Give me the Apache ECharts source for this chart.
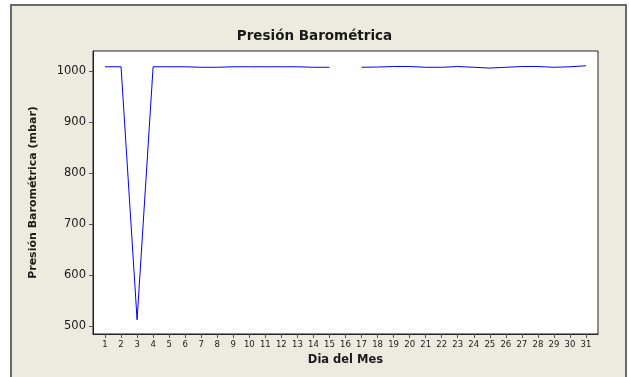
<!DOCTYPE html>
<html>
<head>
<meta charset="utf-8">
<script src="https://cdn.jsdelivr.net/npm/echarts@6/dist/echarts.min.js"></script>
<style>
  html, body { margin: 0; padding: 0; background: #fff; }
  #chart { width: 629px; height: 377px; }
</style>
</head>
<body>
<div id="chart"></div>
<script>
(function() {
  // Day of month and barometric pressure (mbar); day 16 has no reading
  var days = [1, 2, 3, 4, 5, 6, 7, 8, 9, 10, 11, 12, 13, 14, 15, 16,
              17, 18, 19, 20, 21, 22, 23, 24, 25, 26, 27, 28, 29, 30, 31];
  var pressure = [1009, 1009, 512, 1009, 1009, 1009, 1008, 1008, 1009, 1009, 1009, 1009, 1009, 1008, 1008, null,
                  1008, 1008.5, 1009.5, 1009.5, 1008, 1008, 1009.5, 1008, 1006.5, 1008, 1009.5, 1009.5, 1008, 1009, 1011];
  var yTicks = [500, 600, 700, 800, 900, 1000];

  var font = 'DejaVu Sans, Verdana, sans-serif';
  var ink = '#1a1a1a';

  var pts = days.map(function(d, i) { return [d, pressure[i]]; });

  var chart = echarts.init(document.getElementById('chart'), null, { renderer: 'canvas' });
  chart.setOption({
    animation: false,
    backgroundColor: '#fff',
    graphic: [{
      type: 'rect', z: -10, silent: true,
      shape: { x: 11, y: 5, width: 615, height: 390 },
      style: { fill: '#EDEAE0', stroke: '#6a6a6a', lineWidth: 2 }
    }],
    title: {
      text: 'Presión Barométrica',
      left: 'center', top: 24,
      textStyle: { fontFamily: font, fontSize: 13.5, fontWeight: 'bold', color: ink }
    },
    grid: {
      left: 93, top: 51, width: 505, height: 283,
      show: true, backgroundColor: '#fff', borderColor: '#222', borderWidth: 1
    },
    xAxis: {
      type: 'value', min: 0.25, max: 31.75,
      name: 'Dia del Mes', nameLocation: 'middle', nameGap: 20,
      nameTextStyle: { fontFamily: font, fontSize: 11.5, fontWeight: 'bold', color: ink },
      axisLine: { show: true, onZero: false, lineStyle: { color: '#222', width: 1 } },
      axisTick: { show: true, length: 4, lineStyle: { color: '#555' }, customValues: days },
      axisLabel: { fontFamily: font, fontSize: 8.5, color: ink, margin: 6, customValues: days },
      splitLine: { show: false }
    },
    yAxis: {
      type: 'value', min: 484, max: 1040,
      name: 'Presión Barométrica (mbar)', nameLocation: 'middle', nameGap: 54,
      nameTextStyle: { fontFamily: font, fontSize: 11, fontWeight: 'bold', color: ink },
      axisLine: { show: true, lineStyle: { color: '#222', width: 1 } },
      axisTick: { show: true, length: 4, lineStyle: { color: '#555' }, customValues: yTicks },
      axisLabel: {
        fontFamily: font, fontSize: 11.5, color: ink, margin: 7, customValues: yTicks,
        formatter: function(v) { return String(v); }
      },
      splitLine: { show: false }
    },
    series: [{
      type: 'line', data: pts,
      showSymbol: false, connectNulls: false,
      lineStyle: { color: '#0000ff', width: 1 }
    }]
  });
})();
</script>
</body>
</html>
